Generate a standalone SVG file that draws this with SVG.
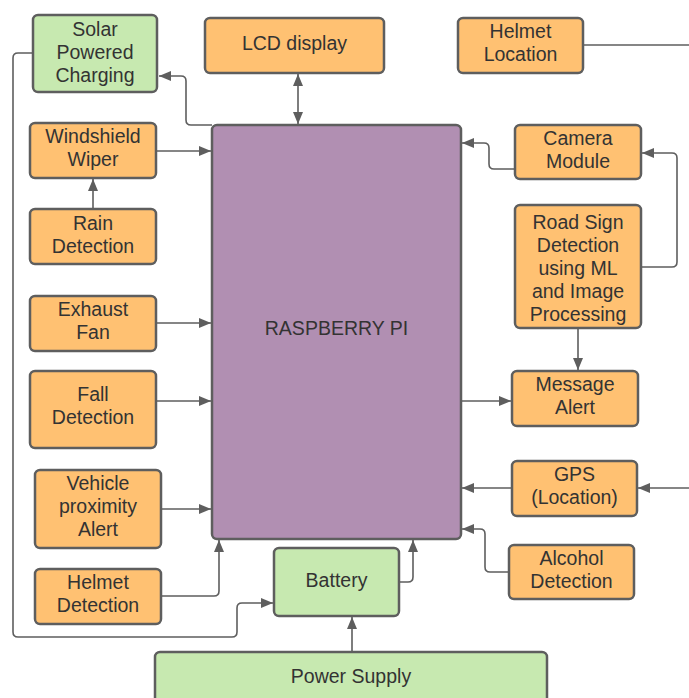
<svg xmlns="http://www.w3.org/2000/svg" width="689" height="698" viewBox="0 0 689 698">
<style>
.o{fill:#FFC172;stroke:#5E5E5E;stroke-width:2.5}
.g{fill:#C7E9B0;stroke:#5E5E5E;stroke-width:2.5}
.p{fill:#B18FB2;stroke:#5E5E5E;stroke-width:2.5}
text{font-family:"Liberation Sans",Arial,sans-serif;font-size:19.5px;fill:#333;text-anchor:middle}
.c path{fill:none;stroke:#5E5E5E;stroke-width:1.6;stroke-linejoin:round}
</style>
<defs>
<marker id="a" viewBox="0 0 12 10" refX="12" refY="5" markerWidth="12" markerHeight="10" markerUnits="userSpaceOnUse" orient="auto-start-reverse">
<path d="M0,0 L12,5 L0,10 Z" fill="#5E5E5E"/>
</marker>
</defs>
<rect width="689" height="698" fill="#fff"/>
<g class="c">
<path d="M33 53 H18 Q13 53 13 58 V632 Q13 637 18 637 H232 Q237 637 237 632 V608 Q237 603 242 603 H273" marker-end="url(#a)"/>
<path d="M212 125 H191 Q186 125 186 120 V81 Q186 76 181 76 H159" marker-end="url(#a)"/>
<path d="M156 151 H211" marker-end="url(#a)"/>
<path d="M93 209 V179" marker-end="url(#a)"/>
<path d="M156 323 H211" marker-end="url(#a)"/>
<path d="M156 401 H211" marker-end="url(#a)"/>
<path d="M161 509 H211" marker-end="url(#a)"/>
<path d="M161 596 H214 Q219 596 219 591 V540" marker-end="url(#a)"/>
<path d="M399 582 H408 Q413 582 413 577 V540" marker-end="url(#a)"/>
<path d="M352 652 V617" marker-end="url(#a)"/>
<path d="M509 572 H490 Q485 572 485 567 V534 Q485 529 480 529 H462" marker-end="url(#a)"/>
<path d="M512 488 H462" marker-end="url(#a)"/>
<path d="M689 488 H638" marker-end="url(#a)"/>
<path d="M461 401 H511" marker-end="url(#a)"/>
<path d="M578 328 V370" marker-end="url(#a)"/>
<path d="M641 267 H672 Q677 267 677 262 V158 Q677 153 672 153 H642" marker-end="url(#a)"/>
<path d="M515 169 H494 Q489 169 489 164 V148 Q489 143 484 143 H462" marker-end="url(#a)"/>
<path d="M583 45 H689"/>
<path d="M298 74 V124" marker-start="url(#a)" marker-end="url(#a)"/>
</g>
<g id="rpi"><rect class="p" x="212" y="125" width="249" height="414" rx="5"/><text x="336.5" y="335">RASPBERRY PI</text></g>
<g id="solar"><rect class="g" x="33" y="15" width="124" height="77" rx="5"/><text x="95" y="36">Solar</text><text x="95" y="59">Powered</text><text x="95" y="82">Charging</text></g>
<g id="lcd"><rect class="o" x="205" y="18" width="179" height="55" rx="5"/><text x="294.5" y="50">LCD display</text></g>
<g id="helmetloc"><rect class="o" x="458" y="18" width="125" height="55" rx="5"/><text x="520.5" y="38">Helmet</text><text x="520.5" y="61">Location</text></g>
<g id="wiper"><rect class="o" x="30" y="123" width="126" height="55" rx="5"/><text x="93" y="143">Windshield</text><text x="93" y="166">Wiper</text></g>
<g id="rain"><rect class="o" x="30" y="209" width="126" height="55" rx="5"/><text x="93" y="230">Rain</text><text x="93" y="253">Detection</text></g>
<g id="fan"><rect class="o" x="30" y="296" width="126" height="55" rx="5"/><text x="93" y="316">Exhaust</text><text x="93" y="339">Fan</text></g>
<g id="fall"><rect class="o" x="30" y="371" width="126" height="77" rx="5"/><text x="93" y="401">Fall</text><text x="93" y="424">Detection</text></g>
<g id="vehicle"><rect class="o" x="35" y="470" width="126" height="78" rx="5"/><text x="98" y="490">Vehicle</text><text x="98" y="513">proximity</text><text x="98" y="536">Alert</text></g>
<g id="helmetdet"><rect class="o" x="35" y="569" width="126" height="55" rx="5"/><text x="98" y="589">Helmet</text><text x="98" y="612">Detection</text></g>
<g id="battery"><rect class="g" x="274" y="548" width="125" height="68" rx="5"/><text x="336.5" y="587">Battery</text></g>
<g id="power"><rect class="g" x="155" y="652" width="392" height="60" rx="5"/><text x="351" y="683">Power Supply</text></g>
<g id="camera"><rect class="o" x="515" y="125" width="126" height="54" rx="5"/><text x="578" y="145">Camera</text><text x="578" y="168">Module</text></g>
<g id="roadsign"><rect class="o" x="515" y="205" width="126" height="123" rx="5"/><text x="578" y="229">Road Sign</text><text x="578" y="252">Detection</text><text x="578" y="275">using ML</text><text x="578" y="298">and Image</text><text x="578" y="321">Processing</text></g>
<g id="message"><rect class="o" x="512" y="371" width="126" height="55" rx="5"/><text x="575" y="391">Message</text><text x="575" y="414">Alert</text></g>
<g id="gps"><rect class="o" x="512" y="461" width="125" height="55" rx="5"/><text x="574.5" y="481">GPS</text><text x="574.5" y="504">(Location)</text></g>
<g id="alcohol"><rect class="o" x="509" y="545" width="125" height="54" rx="5"/><text x="571.5" y="565">Alcohol</text><text x="571.5" y="588">Detection</text></g>
</svg>
